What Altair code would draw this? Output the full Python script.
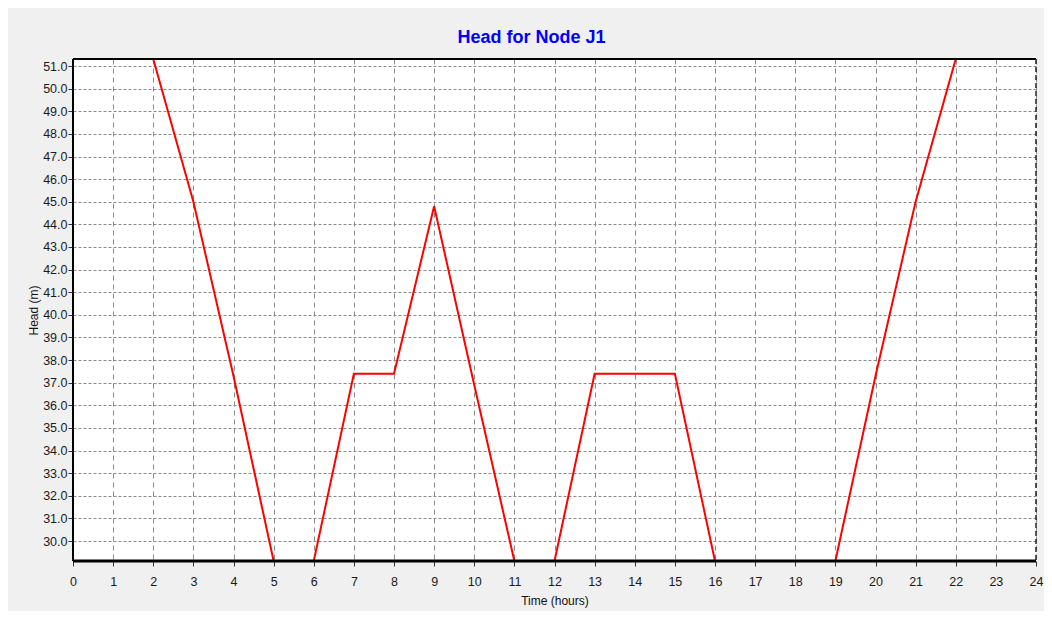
import altair as alt
import pandas as pd

# ---- data ----
hours = list(range(0, 25))
head_m = [51.31, 51.31, 51.31, 45.0, 37.3, 29.12, 29.12, 37.4, 37.4, 44.8,
          36.9, 29.12, 29.12, 37.4, 37.4, 37.4, 29.12, 29.12, 29.12, 29.12,
          37.3, 45.0, 51.31, 51.31, 51.31]
y_ticks = [30 + i for i in range(22)]
x_ticks = list(range(0, 25))
Y_MIN, Y_MAX = 29.12, 51.31
X_MIN, X_MAX = 0, 24

FONT = "Liberation Sans, Arial, sans-serif"

df = pd.DataFrame({"hour": hours, "head": head_m})

x_scale = alt.Scale(domain=[X_MIN, X_MAX], nice=False, zero=False)
y_scale = alt.Scale(domain=[Y_MIN, Y_MAX], nice=False, zero=False)
x_axis = alt.Axis(values=x_ticks, format="d", labelFlush=False, labelOverlap=False)
y_axis = alt.Axis(values=y_ticks, format=".1f", labelOverlap=False)


def xe(field):
    return alt.X(field, title="Time (hours)", scale=x_scale, axis=x_axis)


def ye(field):
    return alt.Y(field, title="Head (m)", scale=y_scale, axis=y_axis)


line = alt.Chart(df).mark_line(color="#ff0000", strokeWidth=2, clip=True).encode(
    x=xe("hour:Q"), y=ye("head:Q"))

top_rule = alt.Chart(pd.DataFrame({"head": [Y_MAX]})).mark_rule(
    color="black", strokeWidth=2).encode(y=ye("head:Q"))
bottom_rule = alt.Chart(pd.DataFrame({"head": [Y_MIN]})).mark_rule(
    color="black", strokeWidth=3).encode(y=ye("head:Q"))
left_rule = alt.Chart(pd.DataFrame({"hour": [X_MIN]})).mark_rule(
    color="black", strokeWidth=2).encode(x=xe("hour:Q"))
right_rule = alt.Chart(pd.DataFrame({"hour": [X_MAX]})).mark_rule(
    color="#222222", strokeWidth=1.5, strokeDash=[5, 3]).encode(x=xe("hour:Q"))

chart = alt.layer(line, top_rule, bottom_rule, left_rule, right_rule).properties(
    width=963,
    height=502,
    padding={"left": 65, "top": 51, "right": 8, "bottom": 50},
    autosize=alt.AutoSizeParams(type="none"),
    background="#f0f0f0",
    title=alt.Title("Head for Node J1", color="#0000ff", fontSize=18, font=FONT,
                    fontWeight="bold", anchor="middle", dx=-23, offset=11),
).configure_view(
    fill="white", stroke="transparent"
).configure_axis(
    domain=False, grid=True, gridColor="#8a8a8a", gridWidth=1,
    tickColor="#333333", tickSize=5, tickWidth=1,
    labelColor="#1a1a1a", labelFont=FONT, labelFontSize=12.5,
    titleFont=FONT, titleFontSize=12, titleFontWeight="normal", titleColor="#111111",
).configure_axisX(
    gridDash=[5, 4], labelPadding=9, titlePadding=8
).configure_axisY(
    gridDash=[3, 2], labelPadding=1, titlePadding=2
)

chart.save("out.html", embed_options={"renderer": "svg", "actions": False})
